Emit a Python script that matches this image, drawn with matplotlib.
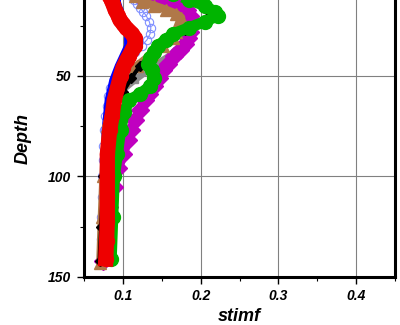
import numpy as np
import matplotlib
matplotlib.use("Agg")
import matplotlib.pyplot as plt
from matplotlib.ticker import MultipleLocator

plt.rcParams['font.family'] = ['Liberation Sans', 'DejaVu Sans']

# Profiles (depth, stimf)
lblue_d = [10, 12, 14, 16, 18, 20, 23, 26, 29, 32, 35, 38, 42, 47, 52, 56, 60, 65, 70, 77, 85, 92, 100, 110, 120, 131, 142]
lblue_x = [0.110, 0.114, 0.118, 0.122, 0.126, 0.130, 0.134, 0.136, 0.135, 0.131, 0.124, 0.115, 0.105, 0.095, 0.088, 0.084, 0.081, 0.079, 0.077, 0.076, 0.075, 0.074, 0.073, 0.073, 0.072, 0.072, 0.072]

blue_d = [10, 12, 17, 22, 27, 30, 35, 40, 45, 52, 62, 77, 100, 120, 140]
blue_x = [0.090, 0.092, 0.096, 0.100, 0.104, 0.106, 0.106, 0.100, 0.094, 0.087, 0.081, 0.077, 0.076, 0.075, 0.075]

brown_d = [10, 13, 15, 17, 19, 21, 24, 28, 31, 35, 39, 45, 52, 60, 75, 100, 120, 143]
brown_x = [0.115, 0.125, 0.140, 0.155, 0.168, 0.175, 0.172, 0.168, 0.165, 0.152, 0.138, 0.118, 0.100, 0.088, 0.079, 0.075, 0.073, 0.071]

gray_d = [10, 15, 20, 28, 35, 40, 45, 52, 60, 75, 100, 120, 141]
gray_x = [0.160, 0.175, 0.185, 0.185, 0.175, 0.160, 0.140, 0.115, 0.090, 0.078, 0.075, 0.074, 0.074]

mag_d = [9, 11, 13, 15, 17, 20, 24, 28, 31, 34, 37, 40, 44, 47, 51, 55, 59, 62, 67, 72, 77, 82, 89, 96, 105, 115, 125, 142]
mag_x = [0.120, 0.140, 0.160, 0.175, 0.182, 0.186, 0.188, 0.186, 0.184, 0.180, 0.173, 0.166, 0.158, 0.152, 0.146, 0.140, 0.134, 0.129, 0.122, 0.116, 0.111, 0.106, 0.100, 0.094, 0.088, 0.082, 0.078, 0.075]

green_d = [9, 12, 15, 18, 20, 23, 26, 29, 32, 35, 38, 41, 44, 47, 51, 55, 59, 62, 68, 77, 89, 100, 120, 141]
green_x = [0.165, 0.185, 0.205, 0.218, 0.222, 0.205, 0.185, 0.165, 0.155, 0.145, 0.140, 0.135, 0.132, 0.138, 0.140, 0.135, 0.122, 0.108, 0.102, 0.097, 0.093, 0.089, 0.087, 0.085]

black_d = [10, 14, 18, 22, 27, 32, 38, 45, 51, 58, 65, 75, 100, 125, 142]
black_x = [0.185, 0.200, 0.212, 0.205, 0.180, 0.155, 0.138, 0.122, 0.111, 0.100, 0.092, 0.085, 0.075, 0.072, 0.070]

red_d = [10, 12, 14, 17, 20, 22, 24, 26, 29, 31, 33, 35, 37, 40, 42, 46, 50, 56, 62, 70, 77, 89, 100, 110, 122, 132, 141]
red_x = [0.082, 0.085, 0.087, 0.090, 0.094, 0.096, 0.100, 0.104, 0.112, 0.115, 0.116, 0.115, 0.112, 0.108, 0.105, 0.100, 0.097, 0.093, 0.089, 0.086, 0.083, 0.080, 0.080, 0.080, 0.080, 0.079, 0.078]

fig = plt.figure(figsize=(4.0, 3.25), dpi=100)
ax = fig.add_axes([0.21, 0.1477, 0.7775, 0.8523])

ax.plot(lblue_x, lblue_d, color='#8090ff', lw=0.8, marker='o', ms=6, mfc='none', mec='#8090ff', mew=0.8, zorder=2)
ax.plot(blue_x, blue_d, color='#0000ff', lw=5, marker='o', ms=4, zorder=2)
ax.plot(gray_x, gray_d, color='#8c8c8c', lw=5, marker='s', ms=5, zorder=3)
ax.plot(mag_x, mag_d, color='#c000c0', lw=7, marker='D', ms=9, zorder=3.5)
ax.plot(brown_x, brown_d, color='#b07848', lw=6, marker='^', ms=9, zorder=4)
ax.plot(black_x, black_d, color='black', lw=3, marker='D', ms=5, zorder=4.5)
ax.plot(green_x, green_d, color='#00b400', lw=8, marker='o', ms=10, zorder=5)
ax.plot(red_x, red_d, color='#ee0000', lw=11, marker='o', ms=10, zorder=7)

ax.set_xlim(0.05, 0.45)
ax.set_ylim(150, 12.2)
ax.xaxis.set_major_locator(MultipleLocator(0.1))
ax.xaxis.set_minor_locator(MultipleLocator(0.05))
ax.yaxis.set_major_locator(MultipleLocator(50))
ax.yaxis.set_minor_locator(MultipleLocator(25))
ax.grid(True, which='major', color='#808080', lw=0.8, zorder=0)
ax.set_axisbelow(True)

for s in ['left', 'bottom', 'right']:
    ax.spines[s].set_linewidth(2.2)
ax.spines['top'].set_visible(False)

ax.tick_params(which='major', length=5, width=1, direction='out', pad=4)
ax.tick_params(which='minor', length=3, width=0.8, direction='out')
ax.tick_params(axis='y', which='both', right=False)

ax.set_xticks([0.1, 0.2, 0.3, 0.4])
ax.set_xticklabels(['0.1', '0.2', '0.3', '0.4'])
for lab in ax.get_xticklabels() + ax.get_yticklabels():
    lab.set_fontsize(10)
    lab.set_fontweight('bold')
    lab.set_fontstyle('italic')

ax.set_xlabel('stimf', fontsize=13, fontweight='bold', fontstyle='italic', labelpad=3)
ax.set_ylabel('Depth', fontsize=13, fontweight='bold', fontstyle='italic', labelpad=12)

fig.savefig('out.png', dpi=100)
